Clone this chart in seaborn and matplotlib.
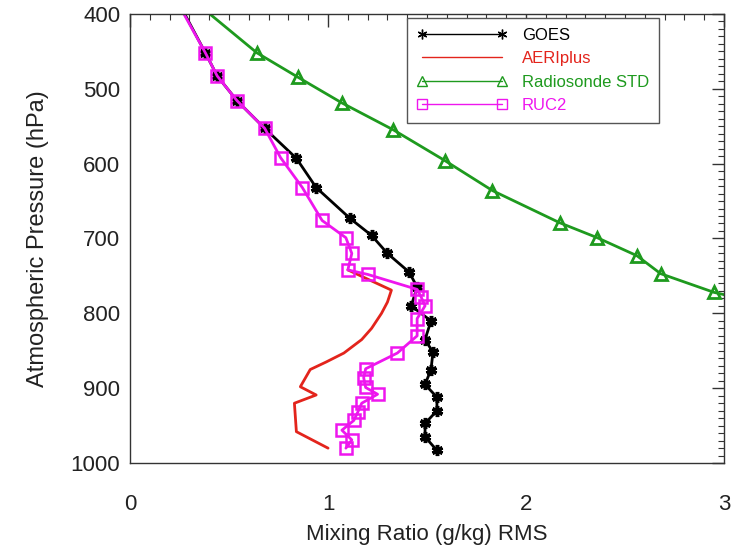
import pandas as pd
import matplotlib
matplotlib.use('Agg')
import matplotlib.pyplot as plt
import seaborn as sns
from matplotlib.ticker import MultipleLocator

# data (pressure in hPa, RMS mixing ratio in g/kg)
goes_p = [390, 452, 483, 516, 553, 593, 632, 673, 696, 720, 745, 765, 790, 810, 835, 852, 875, 895, 912, 930, 947, 965, 983]
goes_x = [0.255, 0.38, 0.44, 0.54, 0.68, 0.84, 0.94, 1.11, 1.22, 1.30, 1.41, 1.45, 1.42, 1.52, 1.49, 1.53, 1.52, 1.49, 1.55, 1.55, 1.49, 1.49, 1.55]

aeri_p = [742, 769, 785, 800, 820, 835, 853, 865, 875, 898, 909, 920, 958, 980]
aeri_x = [1.10, 1.32, 1.30, 1.27, 1.22, 1.17, 1.08, 0.99, 0.91, 0.86, 0.94, 0.83, 0.84, 1.00]

sonde_p = [380, 452, 485, 519, 555, 596, 636, 679, 699, 723, 747, 772, 778]
sonde_x = [0.31, 0.64, 0.85, 1.07, 1.33, 1.59, 1.83, 2.17, 2.36, 2.56, 2.68, 2.95, 3.05]

ruc_p = [385, 452, 483, 516, 553, 592, 632, 676, 699, 720, 742, 748, 768, 778, 790, 807, 830, 853, 874, 886, 899, 908, 920, 932, 943, 956, 969, 980]
ruc_x = [0.24, 0.38, 0.44, 0.54, 0.68, 0.76, 0.87, 0.97, 1.09, 1.12, 1.10, 1.20, 1.45, 1.47, 1.49, 1.45, 1.45, 1.35, 1.19, 1.18, 1.19, 1.25, 1.17, 1.15, 1.13, 1.07, 1.12, 1.09]

sns.set_style('white')
plt.rcParams['font.family'] = ['Liberation Sans', 'DejaVu Sans']

fig = plt.figure(figsize=(7.35, 5.52), dpi=100)
ax = fig.add_axes([0.177, 0.161, 0.808, 0.814])

series = [
    ('GOES', goes_x, goes_p, 'black', dict(marker=(6, 2, 0), markersize=8, markeredgewidth=2.5)),
    ('AERIplus', aeri_x, aeri_p, '#e3241c', dict()),
    ('Radiosonde STD', sonde_x, sonde_p, '#1e9a1e', dict(marker='^', markersize=8, markerfacecolor='none', markeredgewidth=2)),
    ('RUC2', ruc_x, ruc_p, '#ee16ee', dict(marker='s', markersize=8, markerfacecolor='none', markeredgewidth=1.8)),
]

for name, xs, ps, col, style in series:
    df = pd.DataFrame({'x': xs, 'p': ps})
    sns.lineplot(data=df, x='x', y='p', sort=False, estimator=None, color=col,
                 linewidth=2, label=name, ax=ax, markeredgecolor=col, **style)

ax.set_xlim(0, 3)
ax.set_ylim(1000, 400)
ax.xaxis.set_major_locator(MultipleLocator(1))
ax.xaxis.set_minor_locator(MultipleLocator(0.1))
ax.yaxis.set_major_locator(MultipleLocator(100))
ax.yaxis.set_minor_locator(MultipleLocator(10))
ax.tick_params(which='both', direction='in', top=True, right=True, colors='#333333',
               labelcolor='#222222', labelsize=16)
ax.tick_params(which='major', length=9, width=1)
ax.tick_params(which='minor', length=4.5, width=0.8)
ax.tick_params(axis='x', which='major', pad=22)
ax.tick_params(axis='y', which='major', pad=7)
for s in ax.spines.values():
    s.set_color('#333333')
    s.set_linewidth(1)

ax.set_xlabel('Mixing Ratio (g/kg) RMS', fontsize=16, color='#222222', labelpad=7)
ax.set_ylabel('Atmospheric Pressure (hPa)', fontsize=17, color='#222222', labelpad=16)

leg = ax.legend(loc='upper left', bbox_to_anchor=(0.466, 0.991), borderaxespad=0,
                numpoints=2, handlelength=5.4, handletextpad=0.9, labelspacing=0.5,
                fontsize=12, fancybox=False, framealpha=1, edgecolor='#555555',
                borderpad=0.6)
leg.get_frame().set_linewidth(1)
for line, text in zip(leg.get_lines(), leg.get_texts()):
    line.set_linewidth(1)
    line.set_markersize(7)
    line.set_markeredgewidth(1)
    text.set_color(line.get_color())

fig.savefig('out.png', dpi=100)
